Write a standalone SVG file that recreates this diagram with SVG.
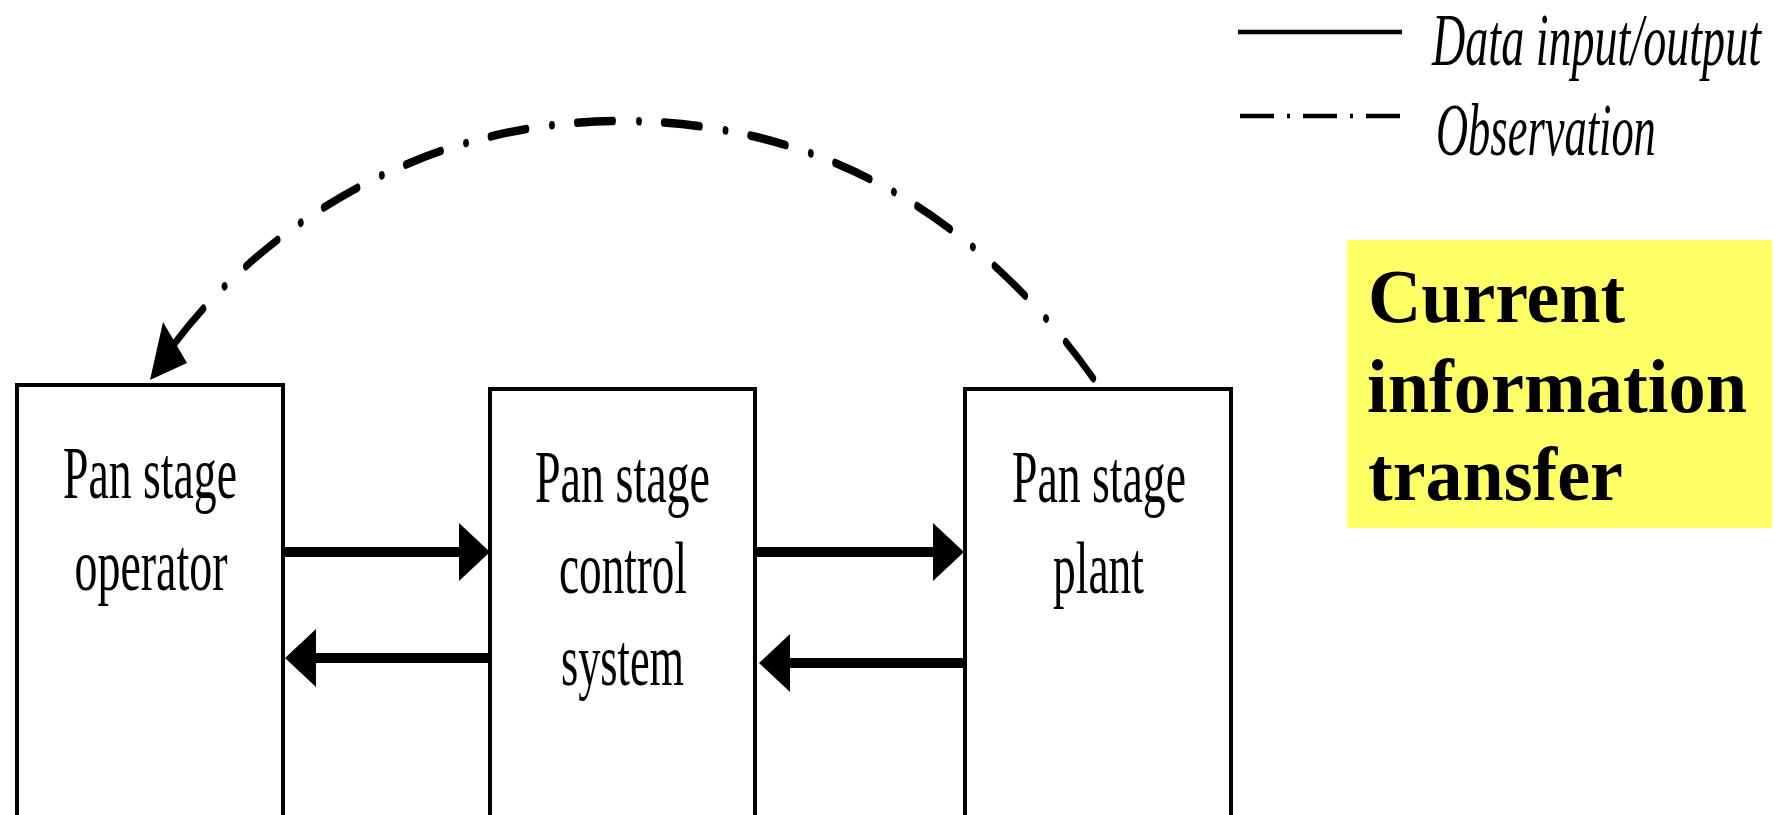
<svg xmlns="http://www.w3.org/2000/svg" width="1776" height="815" viewBox="0 0 1776 815">
  <defs>
    <style>
      .box { fill: #ffffff; stroke: #000000; stroke-width: 4; }
      .label { font-family: "Liberation Serif", "Times New Roman", serif; font-size: 75px; fill: #000000; text-anchor: middle; }
      .legend-text { font-family: "Liberation Serif", "Times New Roman", serif; font-size: 73px; font-style: italic; fill: #000000; }
      .note { font-family: "Liberation Serif", "Times New Roman", serif; font-size: 76px; font-weight: bold; fill: #000000; }
      .flow { stroke: #000000; stroke-width: 10; fill: none; marker-end: url(#head); }
      .observe { stroke: #000000; stroke-width: 8.5; fill: none; stroke-linecap: round; stroke-dasharray: 56 39 0.5 38; }
    </style>
    <!-- solid triangular head, base sits on the line end -->
    <marker id="head" markerUnits="userSpaceOnUse" viewBox="0 0 31 58" markerWidth="31" markerHeight="58" refX="0" refY="29" orient="auto">
      <path d="M0,0 L31,29 L0,58 Z" fill="#000000"/>
    </marker>
  </defs>

  <rect width="1776" height="815" fill="#ffffff"/>

  <!-- legend (condensed italic captions) -->
  <g id="legend">
    <line x1="1238" y1="32" x2="1402" y2="32" stroke="#000000" stroke-width="4.5"/>
    <g transform="translate(1432,65) scale(0.6315,1)">
      <text class="legend-text" x="0" y="0" textLength="521" lengthAdjust="spacingAndGlyphs">Data input/output</text>
    </g>
    <line x1="1240" y1="116" x2="1400" y2="116" stroke="#000000" stroke-width="4.5" stroke-dasharray="34 13 3 13"/>
    <g transform="translate(1436,155) scale(0.609,1)">
      <text class="legend-text" x="0" y="0" textLength="361" lengthAdjust="spacingAndGlyphs">Observation</text>
    </g>
  </g>

  <!-- nodes -->
  <g id="operator">
    <rect class="box" x="17" y="385" width="266" height="450"/>
    <text class="label" x="150" y="498" textLength="174" lengthAdjust="spacingAndGlyphs">Pan stage</text>
    <text class="label" x="151" y="590" textLength="153" lengthAdjust="spacingAndGlyphs">operator</text>
  </g>

  <g id="control-system">
    <rect class="box" x="490" y="389" width="265" height="450"/>
    <text class="label" x="622.5" y="502" textLength="175" lengthAdjust="spacingAndGlyphs">Pan stage</text>
    <text class="label" x="623" y="593" textLength="128" lengthAdjust="spacingAndGlyphs">control</text>
    <text class="label" x="622.5" y="685" textLength="123" lengthAdjust="spacingAndGlyphs">system</text>
  </g>

  <g id="plant">
    <rect class="box" x="965" y="389" width="266" height="450"/>
    <text class="label" x="1099" y="502" textLength="174" lengthAdjust="spacingAndGlyphs">Pan stage</text>
    <text class="label" x="1098.5" y="593" textLength="91" lengthAdjust="spacingAndGlyphs">plant</text>
  </g>

  <g id="info-note">
    <rect x="1347" y="240" width="425" height="288" fill="#ffff66"/>
    <text class="note" x="1368" y="322" textLength="257" lengthAdjust="spacingAndGlyphs">Current</text>
    <text class="note" x="1367" y="412" textLength="380" lengthAdjust="spacingAndGlyphs">information</text>
    <text class="note" x="1368" y="500" textLength="255" lengthAdjust="spacingAndGlyphs">transfer</text>
  </g>

  <!-- connectors -->
  <g id="connectors">
    <line class="flow" x1="285" y1="552" x2="459" y2="552"/>
    <line class="flow" x1="490" y1="658" x2="316" y2="658"/>
    <line class="flow" x1="757" y1="552" x2="933" y2="552"/>
    <line class="flow" x1="965" y1="663" x2="790" y2="663"/>

    <!-- observation arc, drawn in a horizontally compressed frame -->
    <g transform="scale(0.65,1)">
      <path class="observe" d="M269.2,343 C389.2,239 630.8,121 953.8,121 C1307.7,121 1540,246 1689.2,385"/>
    </g>
    <polygon points="150,380 163,322 187,363" fill="#000000"/>
  </g>
</svg>
